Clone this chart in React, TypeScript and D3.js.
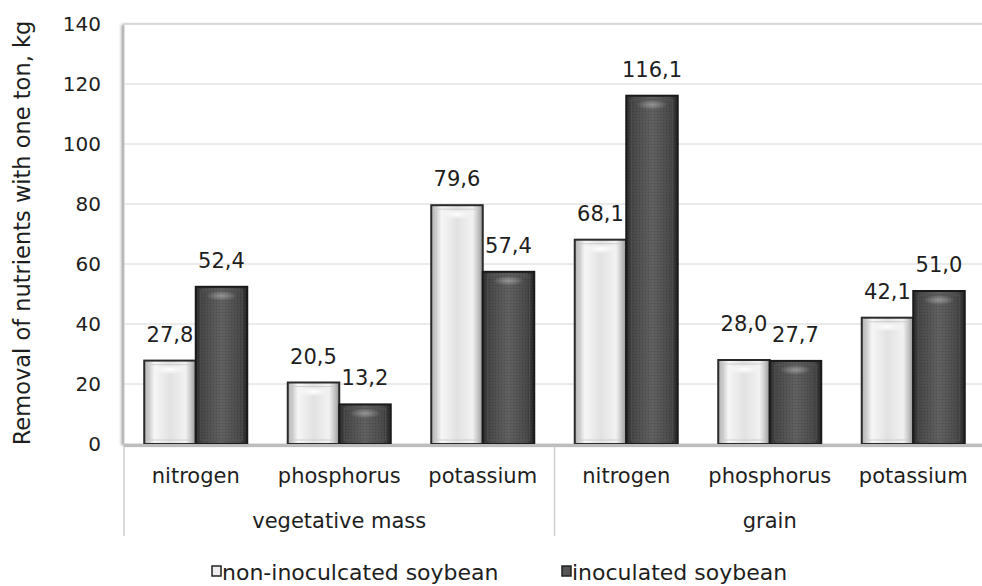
import React from 'react';
import * as d3 from 'd3';

const groups = ['vegetative mass', 'grain'];
const nutrients = ['nitrogen', 'phosphorus', 'potassium'];
const seriesNames = ['non-inoculcated soybean', 'inoculated soybean'];
const nonInoculated = [27.8, 20.5, 79.6, 68.1, 28.0, 42.1];
const inoculated = [52.4, 13.2, 57.4, 116.1, 27.7, 51.0];
const yTicks = [0, 20, 40, 60, 80, 100, 120, 140];
const yTitle = 'Removal of nutrients with one ton, kg';

const W = 982;
const H = 586;
const L = 124;
const R = 985;
const T = 24;
const B = 444;
const FONT = '"DejaVu Sans", Verdana, sans-serif';
const FS = 21;
const TXT = '#1e1e1e';

const categories = groups.flatMap((g) => nutrients.map((n) => ({ key: `${g}|${n}`, group: g, nutrient: n })));
const seriesValues = [nonInoculated, inoculated];

const fmt = (v: number) => d3.format('.1f')(v).replace('.', ',');

export default function App() {
  const y = d3.scaleLinear().domain([0, 140]).range([B, T]);
  const x0 = d3.scaleBand<string>().domain(categories.map((c) => c.key)).range([L, R]).paddingInner(0).paddingOuter(0);
  const x1 = d3.scaleBand<string>().domain(['0', '1']).range([0, x0.bandwidth()]).paddingInner(0).paddingOuter(0.393);
  const groupScale = d3.scaleBand<string>().domain(groups).range([L, R]).padding(0);

  const labels = categories.map((c, i) => {
    const items = seriesValues.map((vals, s) => {
      const v = vals[i];
      const cx = (x0(c.key) as number) + (x1(String(s)) as number) + x1.bandwidth() / 2;
      return { v, cx, by: y(v) - 19, s };
    });
    // simple collision: when both labels sit at about the same height and touch, lift the first one
    const w = fmt(items[0].v).length * FS * 0.65;
    if (Math.abs(items[0].by - items[1].by) < FS * 0.7 && items[1].cx - items[0].cx < w) {
      items[0].by -= 10;
    }
    return items;
  });

  return (
    <svg width={W} height={H} style={{ position: 'absolute', left: 0, top: 0, background: '#fff' }} fontFamily={FONT}>
      <defs>
        <filter id="shadow" x="-5%" y="-5%" width="110%" height="110%">
          <feDropShadow dx={-2} dy={1} stdDeviation={1.6} floodColor="#777" floodOpacity={0.7} />
        </filter>
        <linearGradient id="gLight" x1="0" x2="1" y1="0" y2="0">
          <stop offset="0" stopColor="#b0b0b0" />
          <stop offset="0.12" stopColor="#d8d8d8" />
          <stop offset="0.2" stopColor="#f6f6f6" />
          <stop offset="0.5" stopColor="#e2e2e2" />
          <stop offset="0.8" stopColor="#f2f2f2" />
          <stop offset="0.9" stopColor="#cacaca" />
          <stop offset="1" stopColor="#959595" />
        </linearGradient>
        <linearGradient id="gDark" x1="0" x2="1" y1="0" y2="0">
          <stop offset="0" stopColor="#2e2e2e" />
          <stop offset="0.15" stopColor="#4a4a4a" />
          <stop offset="0.5" stopColor="#606060" />
          <stop offset="0.85" stopColor="#4a4a4a" />
          <stop offset="1" stopColor="#262626" />
        </linearGradient>
        <radialGradient id="hlLight" cx="0.5" cy="0.5" r="0.5">
          <stop offset="0" stopColor="#ffffff" stopOpacity={1} />
          <stop offset="1" stopColor="#ffffff" stopOpacity={0} />
        </radialGradient>
        <radialGradient id="hlDark" cx="0.5" cy="0.5" r="0.5">
          <stop offset="0" stopColor="#9a9a9a" stopOpacity={0.9} />
          <stop offset="1" stopColor="#9a9a9a" stopOpacity={0} />
        </radialGradient>
        <pattern id="dots" width="3" height="3" patternUnits="userSpaceOnUse">
          <rect width="1" height="1" fill="#000" opacity={0.18} />
        </pattern>
      </defs>

      {/* plot frame */}
      <rect x={L} y={T} width={R - L + 20} height={B - T} fill="#fff" stroke="#c4c4c4" strokeWidth={1} filter="url(#shadow)" />

      {/* gridlines */}
      {yTicks.slice(1).map((t) => (
        <line key={`g${t}`} x1={L} x2={R + 20} y1={y(t)} y2={y(t)} stroke="#d6d6d6" strokeWidth={1} />
      ))}

      {/* y tick labels */}
      {yTicks.map((t) => (
        <text key={`t${t}`} x={101} y={y(t)} textAnchor="end" dominantBaseline="central" fontSize={20} fill={TXT}>
          {t}
        </text>
      ))}

      {/* y title */}
      <text
        transform={`translate(22,${233}) rotate(-90)`}
        textAnchor="middle"
        dominantBaseline="central"
        fontSize={22.5}
        fill={TXT}
      >
        {yTitle}
      </text>

      {/* bars */}
      {categories.map((c, i) =>
        seriesValues.map((vals, s) => {
          const v = vals[i];
          const bx = (x0(c.key) as number) + (x1(String(s)) as number);
          const bw = x1.bandwidth();
          const by = y(v);
          const bh = y(0) - by;
          const light = s === 0;
          return (
            <g key={`b${i}-${s}`}>
              <rect x={bx} y={by} width={bw} height={bh} fill={light ? 'url(#gLight)' : 'url(#gDark)'} />
              {!light && <rect x={bx} y={by} width={bw} height={bh} fill="url(#dots)" />}
              <rect x={bx + 5} y={by + 4} width={bw - 10} height={Math.max(0, bh - 8)} fill="none" stroke={light ? '#c8c8c8' : '#555'} strokeWidth={1} opacity={0.8} />
              <ellipse cx={bx + bw / 2} cy={by + 9} rx={bw * 0.3} ry={5} fill={light ? 'url(#hlLight)' : 'url(#hlDark)'} />
              <rect x={bx} y={by} width={bw} height={bh} fill="none" stroke={light ? '#2a2a2a' : '#1a1a1a'} strokeWidth={2} />
            </g>
          );
        })
      )}

      {/* baseline */}
      <line x1={L} x2={W} y1={B + 1.5} y2={B + 1.5} stroke="#bdbdbd" strokeWidth={3} />

      {/* data labels */}
      {labels.flat().map((d, i) => (
        <text key={`l${i}`} x={d.cx} y={d.by} textAnchor="middle" fontSize={FS} fill={TXT}>
          {fmt(d.v)}
        </text>
      ))}

      {/* category labels */}
      {categories.map((c) => (
        <text key={`c${c.key}`} x={(x0(c.key) as number) + x0.bandwidth() / 2} y={483} textAnchor="middle" fontSize={FS} fill={TXT}>
          {c.nutrient}
        </text>
      ))}

      {/* group separators */}
      {[...groups.map((g) => groupScale(g) as number), R].map((gx, i) => (
        <line key={`s${i}`} x1={gx} x2={gx} y1={B + 3} y2={536} stroke="#cfcfcf" strokeWidth={1.5} />
      ))}

      {/* group labels */}
      {groups.map((g) => (
        <text key={`gl${g}`} x={(groupScale(g) as number) + groupScale.bandwidth() / 2} y={528} textAnchor="middle" fontSize={FS} fill={TXT}>
          {g}
        </text>
      ))}

      {/* legend */}
      {seriesNames.map((name, s) => {
        const lx = s === 0 ? 212 : 562;
        return (
          <g key={`lg${s}`}>
            <rect x={lx} y={566} width={9} height={10} fill={s === 0 ? '#eeeeee' : '#555'} stroke="#222" strokeWidth={1.5} />
            <text x={lx + 10} y={580} fontSize={22} fill={TXT}>
              {name}
            </text>
          </g>
        );
      })}
    </svg>
  );
}
